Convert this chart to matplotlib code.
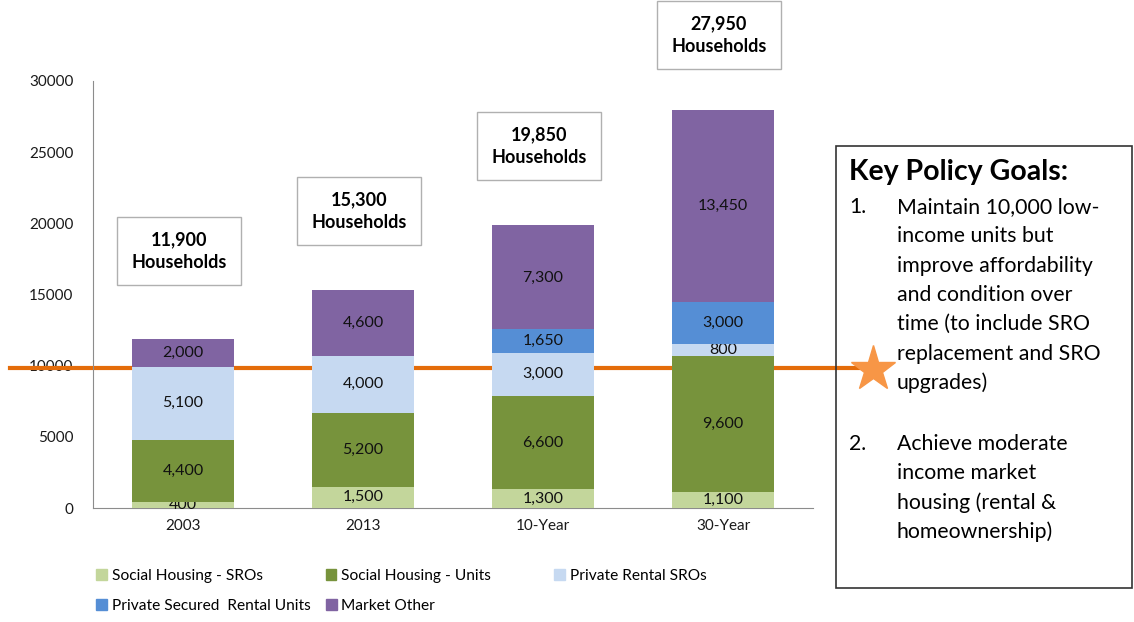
import matplotlib
matplotlib.use("Agg")
import matplotlib.pyplot as plt
import matplotlib.transforms as mtransforms
from matplotlib.patches import Rectangle, Patch
from matplotlib.lines import Line2D
import numpy as np

plt.rcParams['font.family'] = ['Lato', 'DejaVu Sans']

# housing stock by period
periods = ["2003", "2013", "10-Year", "30-Year"]
series = ["Social Housing - SROs", "Social Housing - Units", "Private Rental SROs",
          "Private Secured  Rental Units", "Market Other"]
sh_sros = [400, 1500, 1300, 1100]
sh_units = [4400, 5200, 6600, 9600]
pr_sros = [5100, 4000, 3000, 800]
ps_units = [0, 0, 1650, 3000]
market = [2000, 4600, 7300, 13450]
totals = ["11,900", "15,300", "19,850", "27,950"]
target = 9850

colors = ["#C3D69B", "#77933C", "#C6D9F1", "#558ED5", "#8064A2"]

goals_title = "Key Policy Goals:"
goal1 = ["Maintain 10,000 low-", "income units but", "improve affordability",
         "and condition over", "time (to include SRO", "replacement and SRO", "upgrades)"]
goal2 = ["Achieve moderate", "income market", "housing (rental &", "homeownership)"]

W, H = 1134, 622
fig = plt.figure(figsize=(W / 100, H / 100), dpi=100)
ax = fig.add_axes([93 / W, 1 - 508 / H, 720 / W, 427 / H])

x = np.arange(len(periods))
bottom = np.zeros(len(periods))
for vals, c in zip([sh_sros, sh_units, pr_sros, ps_units, market], colors):
    b = ax.bar(x, vals, 0.57, bottom=bottom, color=c, zorder=3)
    labels = ["{:,}".format(v) if v > 0 else "" for v in vals]
    ax.bar_label(b, labels=labels, label_type="center", fontsize=11.5, color="#111111")
    bottom += np.array(vals)

ax.set_xlim(-0.5, len(periods) - 0.5)
ax.set_ylim(0, 30000)
ax.set_yticks(range(0, 30001, 5000))
ax.set_xticks(x)
ax.set_xticklabels(periods)
ax.tick_params(length=0, labelsize=11, colors="#1a1a1a", pad=8)
ax.tick_params(axis="y", pad=14)
for s in ["top", "right"]:
    ax.spines[s].set_visible(False)
for s in ["left", "bottom"]:
    ax.spines[s].set_color("#8c8c8c")

# total household boxes above each bar
box_offsets = [63, 57, 57, 54]
for xi, tot, t, off in zip(x, totals, bottom, box_offsets):
    ax.annotate("{}\nHouseholds".format(tot), (xi, t), xytext=(-3, off),
                textcoords="offset points", ha="center", va="center",
                fontsize=13, fontweight="bold", linespacing=1.4,
                annotation_clip=False,
                bbox=dict(boxstyle="square,pad=0.78", fc="white", ec="#b0b0b0", lw=1))

# 10,000 unit target line and star
tr = mtransforms.blended_transform_factory(fig.transFigure, ax.transData)
ax.add_line(Line2D([10 / W, 860 / W], [target, target], transform=tr, color="#E46C0A",
                   lw=3, zorder=2, clip_on=False))

# policy goals panel
fig.add_artist(Rectangle((836 / W, 1 - 588 / H), 296 / W, 442 / H, transform=fig.transFigure,
                         fill=False, ec="#333333", lw=1.2))
fig.add_artist(Line2D([873 / W], [1 - 369 / H], marker="*", markersize=34, color="#F79646",
                      transform=fig.transFigure))
fig.text(849 / W, 1 - 172 / H, goals_title, fontsize=20.5, fontweight="bold", va="center")
fig.text(849 / W, 1 - 207 / H, "1.", fontsize=15.3, va="center")
for i, line in enumerate(goal1):
    fig.text(897 / W, 1 - (207 + 29.3 * i) / H, line, fontsize=15.3, va="center")
fig.text(849 / W, 1 - 444 / H, "2.", fontsize=15.3, va="center")
for i, line in enumerate(goal2):
    fig.text(897 / W, 1 - (444 + 29.3 * i) / H, line, fontsize=15.3, va="center")

# legend, two rows
handles = [Patch(color=c) for c in colors]
leg_kw = dict(frameon=False, fontsize=11.2, handlelength=0.7, handleheight=0.7,
              handletextpad=0.3, borderaxespad=0, borderpad=0)
fig.legend(handles[:3], series[:3], ncol=3, loc="center left",
           bbox_to_anchor=(96 / W, 1 - 576 / H), columnspacing=4.05, **leg_kw)
fig.legend(handles[3:], series[3:], ncol=2, loc="center left",
           bbox_to_anchor=(96 / W, 1 - 606 / H), columnspacing=1.0, **leg_kw)

fig.savefig("out.png", dpi=100)
